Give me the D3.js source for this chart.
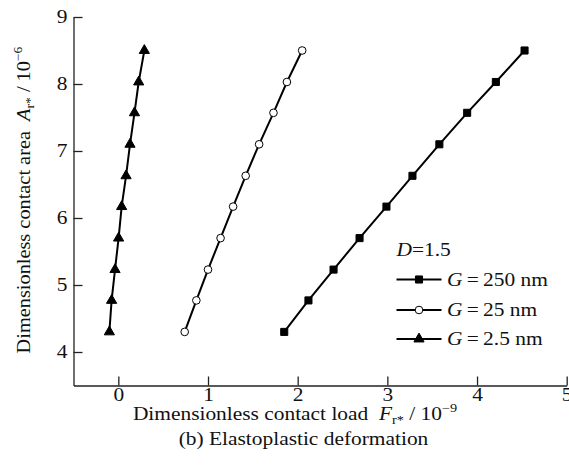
<!DOCTYPE html>
<html>
<head>
<meta charset="utf-8">
<script src="https://cdn.jsdelivr.net/npm/d3@7"></script>
<style>
  body { margin: 0; background: #fff; }
  text { font-family: "Liberation Serif", "Times New Roman", serif; fill: #111; }
</style>
</head>
<body>
<div id="chart"></div>
<script>
// data
var areaValues = [4.3, 4.77, 5.23, 5.7, 6.17, 6.63, 7.1, 7.57, 8.03, 8.5];
var loadG250 = [1.85, 2.12, 2.40, 2.69, 2.99, 3.28, 3.58, 3.89, 4.21, 4.53];
var loadG25 = [0.74, 0.87, 1.00, 1.14, 1.28, 1.42, 1.57, 1.73, 1.88, 2.05];
var loadG2_5 = [-0.10, -0.075, -0.037, 0.003, 0.037, 0.086, 0.13, 0.18, 0.227, 0.29];
var seriesLabels = ["250 nm", "25 nm", "2.5 nm"];
var xTicks = [0, 1, 2, 3, 4, 5];
var yTicks = [4, 5, 6, 7, 8, 9];

var svgWidth = 569;
var svgHeight = 469;
var fontSize = 18;
var stretch = 1.19; // the original serif is wider than Liberation Serif

var svg = d3.select("#chart")
  .append("svg")
  .attr("width", svgWidth)
  .attr("height", svgHeight);

var x = d3.scaleLinear().domain([-0.5, 5]).range([73.5, 566.7]);
var y = d3.scaleLinear().domain([3.5, 9]).range([385.5, 17]);

// axes
var xAxis = svg.append("g")
  .attr("transform", "translate(0," + y(3.5) + ")")
  .call(d3.axisBottom(x).tickValues(xTicks).tickFormat(d3.format("d"))
    .tickSizeInner(-9).tickSizeOuter(0).tickPadding(3));

var yAxis = svg.append("g")
  .attr("transform", "translate(" + x(-0.5) + ",0)")
  .call(d3.axisLeft(y).tickValues(yTicks).tickFormat(d3.format("d"))
    .tickSizeInner(-9).tickSizeOuter(0).tickPadding(6));

[xAxis, yAxis].forEach(function (ax) {
  ax.select(".domain").attr("stroke", "#222").attr("stroke-width", 1.3);
  ax.selectAll(".tick line").attr("stroke", "#222").attr("stroke-width", 1.3);
  ax.selectAll(".tick text")
    .style("font-family", "'Liberation Serif', serif")
    .style("font-size", fontSize + "px")
    .attr("fill", "#111");
});
xAxis.selectAll(".tick text").attr("transform", "scale(" + stretch + ",1)");
yAxis.selectAll(".tick text")
  .attr("x", -6 / stretch)
  .attr("transform", "scale(" + stretch + ",1)");

// series
var series = [
  { load: loadG250, symbol: d3.symbolSquare, size: 50, fill: "#000" },
  { load: loadG25, symbol: d3.symbolCircle, size: 46, fill: "#fff" },
  { load: loadG2_5, symbol: d3.symbolTriangle, size: 45, fill: "#000" }
];

var line = d3.line()
  .x(function (d) { return x(d[0]); })
  .y(function (d) { return y(d[1]); });

series.forEach(function (s) {
  var pts = s.load.map(function (v, i) { return [v, areaValues[i]]; });
  svg.append("path")
    .datum(pts)
    .attr("d", line)
    .attr("fill", "none")
    .attr("stroke", "#000")
    .attr("stroke-width", 2);

  svg.selectAll(null)
    .data(pts)
    .enter()
    .append("path")
    .attr("transform", function (d) { return "translate(" + x(d[0]) + "," + y(d[1]) + ")"; })
    .attr("d", d3.symbol().type(s.symbol).size(s.size))
    .attr("fill", s.fill)
    .attr("stroke", "#000")
    .attr("stroke-width", 1);
});

// helper: text placed at (tx,ty), stretched sideways
function stretchedText(parent, tx, ty, anchor, rotate, k) {
  k = k || stretch;
  return parent.append("text")
    .attr("transform", "translate(" + tx + "," + ty + ")" + (rotate ? " rotate(-90)" : "") + " scale(" + k + ",1)")
    .attr("text-anchor", anchor)
    .style("font-size", fontSize + "px");
}

// legend
var dText = stretchedText(svg, 396.5, 256, "start");
dText.append("tspan").style("font-style", "italic").text("D");
dText.append("tspan").text("=1.5");

var rowY = [279.5, 310, 339];
series.forEach(function (s, i) {
  var row = svg.append("g").attr("transform", "translate(396.5," + rowY[i] + ")");
  row.append("line")
    .attr("x1", 0).attr("x2", 45)
    .attr("y1", 0).attr("y2", 0)
    .attr("stroke", "#000").attr("stroke-width", 2);
  row.append("path")
    .attr("transform", "translate(22.5,0)")
    .attr("d", d3.symbol().type(s.symbol).size(s.size))
    .attr("fill", s.fill)
    .attr("stroke", "#000")
    .attr("stroke-width", 1);
  var t = stretchedText(svg, 447, rowY[i] + 6, "start");
  t.append("tspan").style("font-style", "italic").text("G");
  t.append("tspan").text("\u2009=\u2009" + seriesLabels[i]);
});

// x axis title
var xTitle = stretchedText(svg, 295, 420, "middle");
xTitle.append("tspan").text("Dimensionless contact load\u2002");
xTitle.append("tspan").style("font-style", "italic").text("F");
xTitle.append("tspan").attr("dy", 4).style("font-size", "12px").text("r*");
xTitle.append("tspan").attr("dy", -4).text(" / 10");
xTitle.append("tspan").attr("dy", -8).style("font-size", "12px").text("\u22129");

stretchedText(svg, 303.5, 445, "middle").text("(b) Elastoplastic deformation");

// y axis title
var yTitle = stretchedText(svg, 30, 200, "middle", true, 1.13);
yTitle.append("tspan").text("Dimensionless contact area\u2002");
yTitle.append("tspan").style("font-style", "italic").text("A");
yTitle.append("tspan").attr("dy", 4).style("font-size", "12px").text("r*");
yTitle.append("tspan").attr("dy", -4).text(" / 10");
yTitle.append("tspan").attr("dy", -8).style("font-size", "12px").text("\u22126");
</script>
</body>
</html>
